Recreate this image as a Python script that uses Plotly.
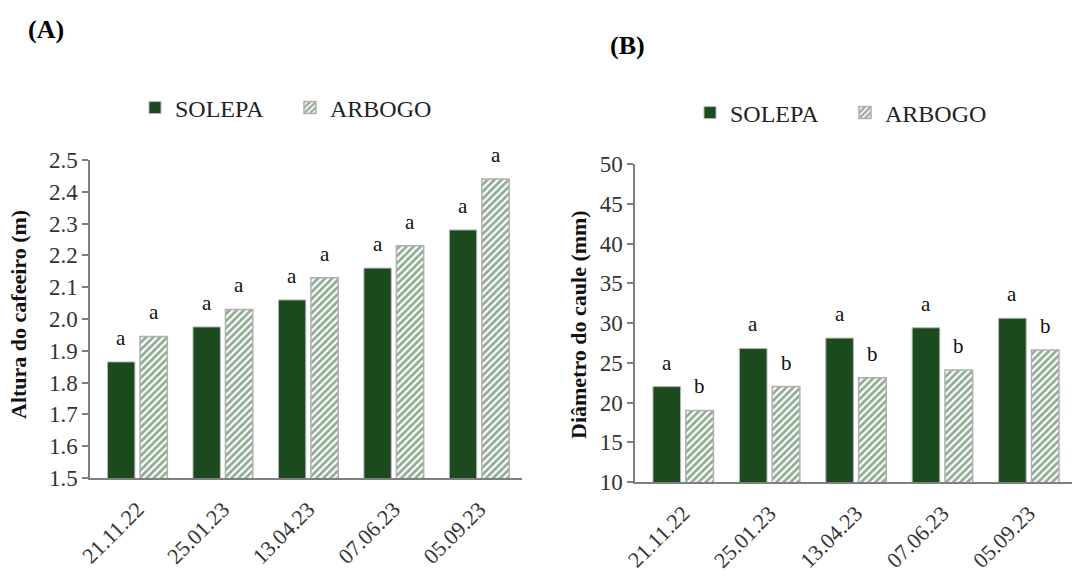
import plotly.graph_objects as go

dates = ["21.11.22", "25.01.23", "13.04.23", "07.06.23", "05.09.23"]
altura_solepa = [1.865, 1.975, 2.06, 2.16, 2.28]
altura_arbogo = [1.945, 2.03, 2.13, 2.23, 2.44]
altura_letters_solepa = ["a", "a", "a", "a", "a"]
altura_letters_arbogo = ["a", "a", "a", "a", "a"]
diam_solepa = [22.0, 26.8, 28.1, 29.4, 30.6]
diam_arbogo = [19.0, 22.0, 23.1, 24.1, 26.6]
diam_letters_solepa = ["a", "a", "a", "a", "a"]
diam_letters_arbogo = ["b", "b", "b", "b", "b"]

W, H = 1092, 579
FONT = "Liberation Serif"
DARK = "#1b4a1e"
HATCH = "#22592a"

def px_x(p):
    return p / W

def px_y(p):
    return 1 - p / H

fig = go.Figure()

BW = 0.32
OFF_S = -0.35
OFF_A = 0.03

def add_panel(xa, ya, solepa, arbogo, legend):
    fig.add_trace(go.Bar(
        x=dates, y=solepa, name="SOLEPA", xaxis=xa, yaxis=ya,
        width=BW, offset=OFF_S,
        marker=dict(color=DARK, line=dict(color="#b8b8b8", width=1)),
        legend=legend, showlegend=True,
    ))
    fig.add_trace(go.Bar(
        x=dates, y=arbogo, name="ARBOGO", xaxis=xa, yaxis=ya,
        width=BW, offset=OFF_A,
        marker=dict(color="white",
                    pattern=dict(shape="/", fgcolor=HATCH, bgcolor="white",
                                 size=5, solidity=0.55),
                    line=dict(color="#b0b0b0", width=1.5)),
        legend=legend, showlegend=True,
    ))

add_panel("x", "y", altura_solepa, altura_arbogo, "legend")
add_panel("x2", "y2", diam_solepa, diam_arbogo, "legend2")

annotations = []

def add_letters(xref, yref, vals, letters, dx):
    for i, (v, t) in enumerate(zip(vals, letters)):
        annotations.append(dict(
            x=i + dx, y=v, xref=xref, yref=yref, text=t, showarrow=False,
            xanchor="center", yanchor="middle", yshift=24,
            font=dict(family=FONT, size=21, color="#111"),
        ))

cS = OFF_S + BW / 2
cA = OFF_A + BW / 2
add_letters("x", "y", altura_solepa, altura_letters_solepa, cS)
add_letters("x", "y", altura_arbogo, altura_letters_arbogo, cA)
add_letters("x2", "y2", diam_solepa, diam_letters_solepa, cS)
add_letters("x2", "y2", diam_arbogo, diam_letters_arbogo, cA)

annotations += [
    dict(x=px_x(46), y=px_y(30), xref="paper", yref="paper", text="<b>(A)</b>",
         showarrow=False, xanchor="center", yanchor="middle",
         font=dict(family=FONT, size=26, color="black")),
    dict(x=px_x(627), y=px_y(45), xref="paper", yref="paper", text="<b>(B)</b>",
         showarrow=False, xanchor="center", yanchor="middle",
         font=dict(family=FONT, size=26, color="black")),
    dict(x=px_x(18), y=px_y(315), xref="paper", yref="paper",
         text="<b>Altura do cafeeiro (m)</b>", textangle=-90,
         showarrow=False, xanchor="center", yanchor="middle",
         font=dict(family=FONT, size=22, color="#111")),
    dict(x=px_x(578), y=px_y(325), xref="paper", yref="paper",
         text="<b>Diâmetro do caule (mm)</b>", textangle=-90,
         showarrow=False, xanchor="center", yanchor="middle",
         font=dict(family=FONT, size=22, color="#111")),
]

axis_line = dict(showline=True, linecolor="#7f7f7f", linewidth=1.5,
                 showgrid=False, zeroline=False, automargin=False)

xcommon = dict(axis_line, tickangle=-45, ticks="", ticklabelstandoff=8,
               tickfont=dict(family=FONT, size=22, color="#333"))
ycommon = dict(axis_line, ticks="outside", ticklen=6, tickcolor="#7f7f7f",
               tickwidth=1.5,
               tickfont=dict(family=FONT, size=23, color="#333"))

legend_common = dict(orientation="h", xanchor="left", yanchor="middle",
                     entrywidth=110, itemwidth=30,
                     font=dict(family=FONT, size=24, color="#222"),
                     bgcolor="rgba(0,0,0,0)")

fig.update_layout(
    width=W, height=H,
    margin=dict(l=0, r=0, t=0, b=0),
    paper_bgcolor="white", plot_bgcolor="white",
    barmode="group",
    font=dict(family=FONT),
    xaxis=dict(xcommon, domain=[px_x(90), px_x(522)], range=[-0.555, 4.5],
               anchor="y"),
    yaxis=dict(ycommon, domain=[1 - 478 / H, 1 - 160 / H], range=[1.5, 2.5],
               dtick=0.1, tickformat=".1f", anchor="x"),
    xaxis2=dict(xcommon, domain=[px_x(635), px_x(1072)], range=[-0.558, 4.5],
                anchor="y2"),
    yaxis2=dict(ycommon, domain=[1 - 482 / H, 1 - 164 / H], range=[10, 50],
                dtick=5, anchor="x2"),
    legend=dict(legend_common, x=px_x(135), y=px_y(108)),
    legend2=dict(legend_common, x=px_x(690), y=px_y(113)),
    annotations=annotations,
)

fig.write_html("out.html")
